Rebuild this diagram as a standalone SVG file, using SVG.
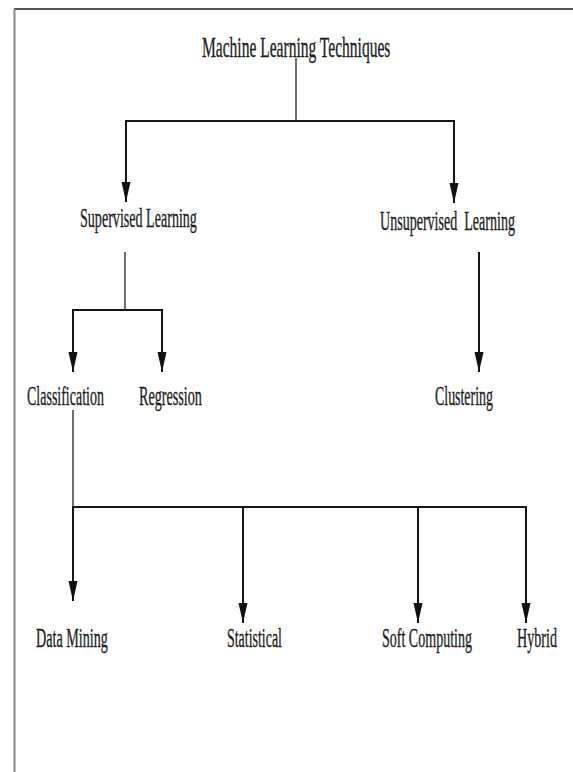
<svg xmlns="http://www.w3.org/2000/svg" width="573" height="772" viewBox="0 0 573 772">
  <style>
    .lbl { font-family: "Liberation Serif", "Times New Roman", serif; font-size: 28px; fill: #1c1c1c; stroke: #1c1c1c; stroke-width: 0.35; }
    .ttl { font-size: 30px; }
    .ln { stroke: #151515; stroke-width: 2; fill: none; }
    .thin { stroke: #222; stroke-width: 1.3; fill: none; }
  </style>
  <defs>
    <marker id="ah" markerUnits="userSpaceOnUse" markerWidth="20" markerHeight="10" refX="20" refY="4.5" orient="auto">
      <path d="M0,0 L20,4.5 L0,9 z" fill="#111"/>
    </marker>
  </defs>
  <rect width="573" height="772" fill="#fff"/>
  <g id="frame">
    <line x1="14" y1="9" x2="573" y2="9" stroke="#555" stroke-width="2"/>
    <line x1="14.5" y1="9" x2="14.5" y2="772" stroke="#8a8a8a" stroke-width="2"/>
  </g>
  <g id="connectors">
    <path class="thin" d="M296,58 V121"/>
    <path class="ln" d="M125,121 H455"/>
    <path class="ln" d="M126,121 V202" marker-end="url(#ah)"/>
    <path class="ln" d="M454,121 V203" marker-end="url(#ah)"/>
    <path class="thin" d="M125,252 V310"/>
    <path class="ln" d="M72,310 H163"/>
    <path class="ln" d="M73,310 V372" marker-end="url(#ah)"/>
    <path class="ln" d="M162,310 V372" marker-end="url(#ah)"/>
    <path class="ln" d="M479,252 V372" marker-end="url(#ah)"/>
    <path class="thin" d="M73,410 V507"/>
    <path class="ln" d="M72,507 H527"/>
    <path class="ln" d="M73,507 V601" marker-end="url(#ah)"/>
    <path class="ln" d="M243,507 V623" marker-end="url(#ah)"/>
    <path class="ln" d="M418,507 V623" marker-end="url(#ah)"/>
    <path class="ln" d="M526,507 V623" marker-end="url(#ah)"/>
  </g>
  <g id="n-root"><text class="lbl ttl" transform="translate(202,57) scale(0.518,1)">Machine Learning Techniques</text></g>
  <g id="n-supervised"><text class="lbl" transform="translate(80,227) scale(0.503,1)">Supervised Learning</text></g>
  <g id="n-unsupervised"><text class="lbl" transform="translate(380,230) scale(0.502,1)" xml:space="preserve">Unsupervised  Learning</text></g>
  <g id="n-classification"><text class="lbl" transform="translate(27,405) scale(0.5,1)">Classification</text></g>
  <g id="n-regression"><text class="lbl" transform="translate(139,405) scale(0.506,1)">Regression</text></g>
  <g id="n-clustering"><text class="lbl" transform="translate(435,405) scale(0.497,1)">Clustering</text></g>
  <g id="n-datamining"><text class="lbl" transform="translate(36,647) scale(0.506,1)">Data Mining</text></g>
  <g id="n-statistical"><text class="lbl" transform="translate(227,647) scale(0.498,1)">Statistical</text></g>
  <g id="n-softcomputing"><text class="lbl" transform="translate(382,647) scale(0.501,1)">Soft Computing</text></g>
  <g id="n-hybrid"><text class="lbl" transform="translate(517,647) scale(0.504,1)">Hybrid</text></g>
</svg>
